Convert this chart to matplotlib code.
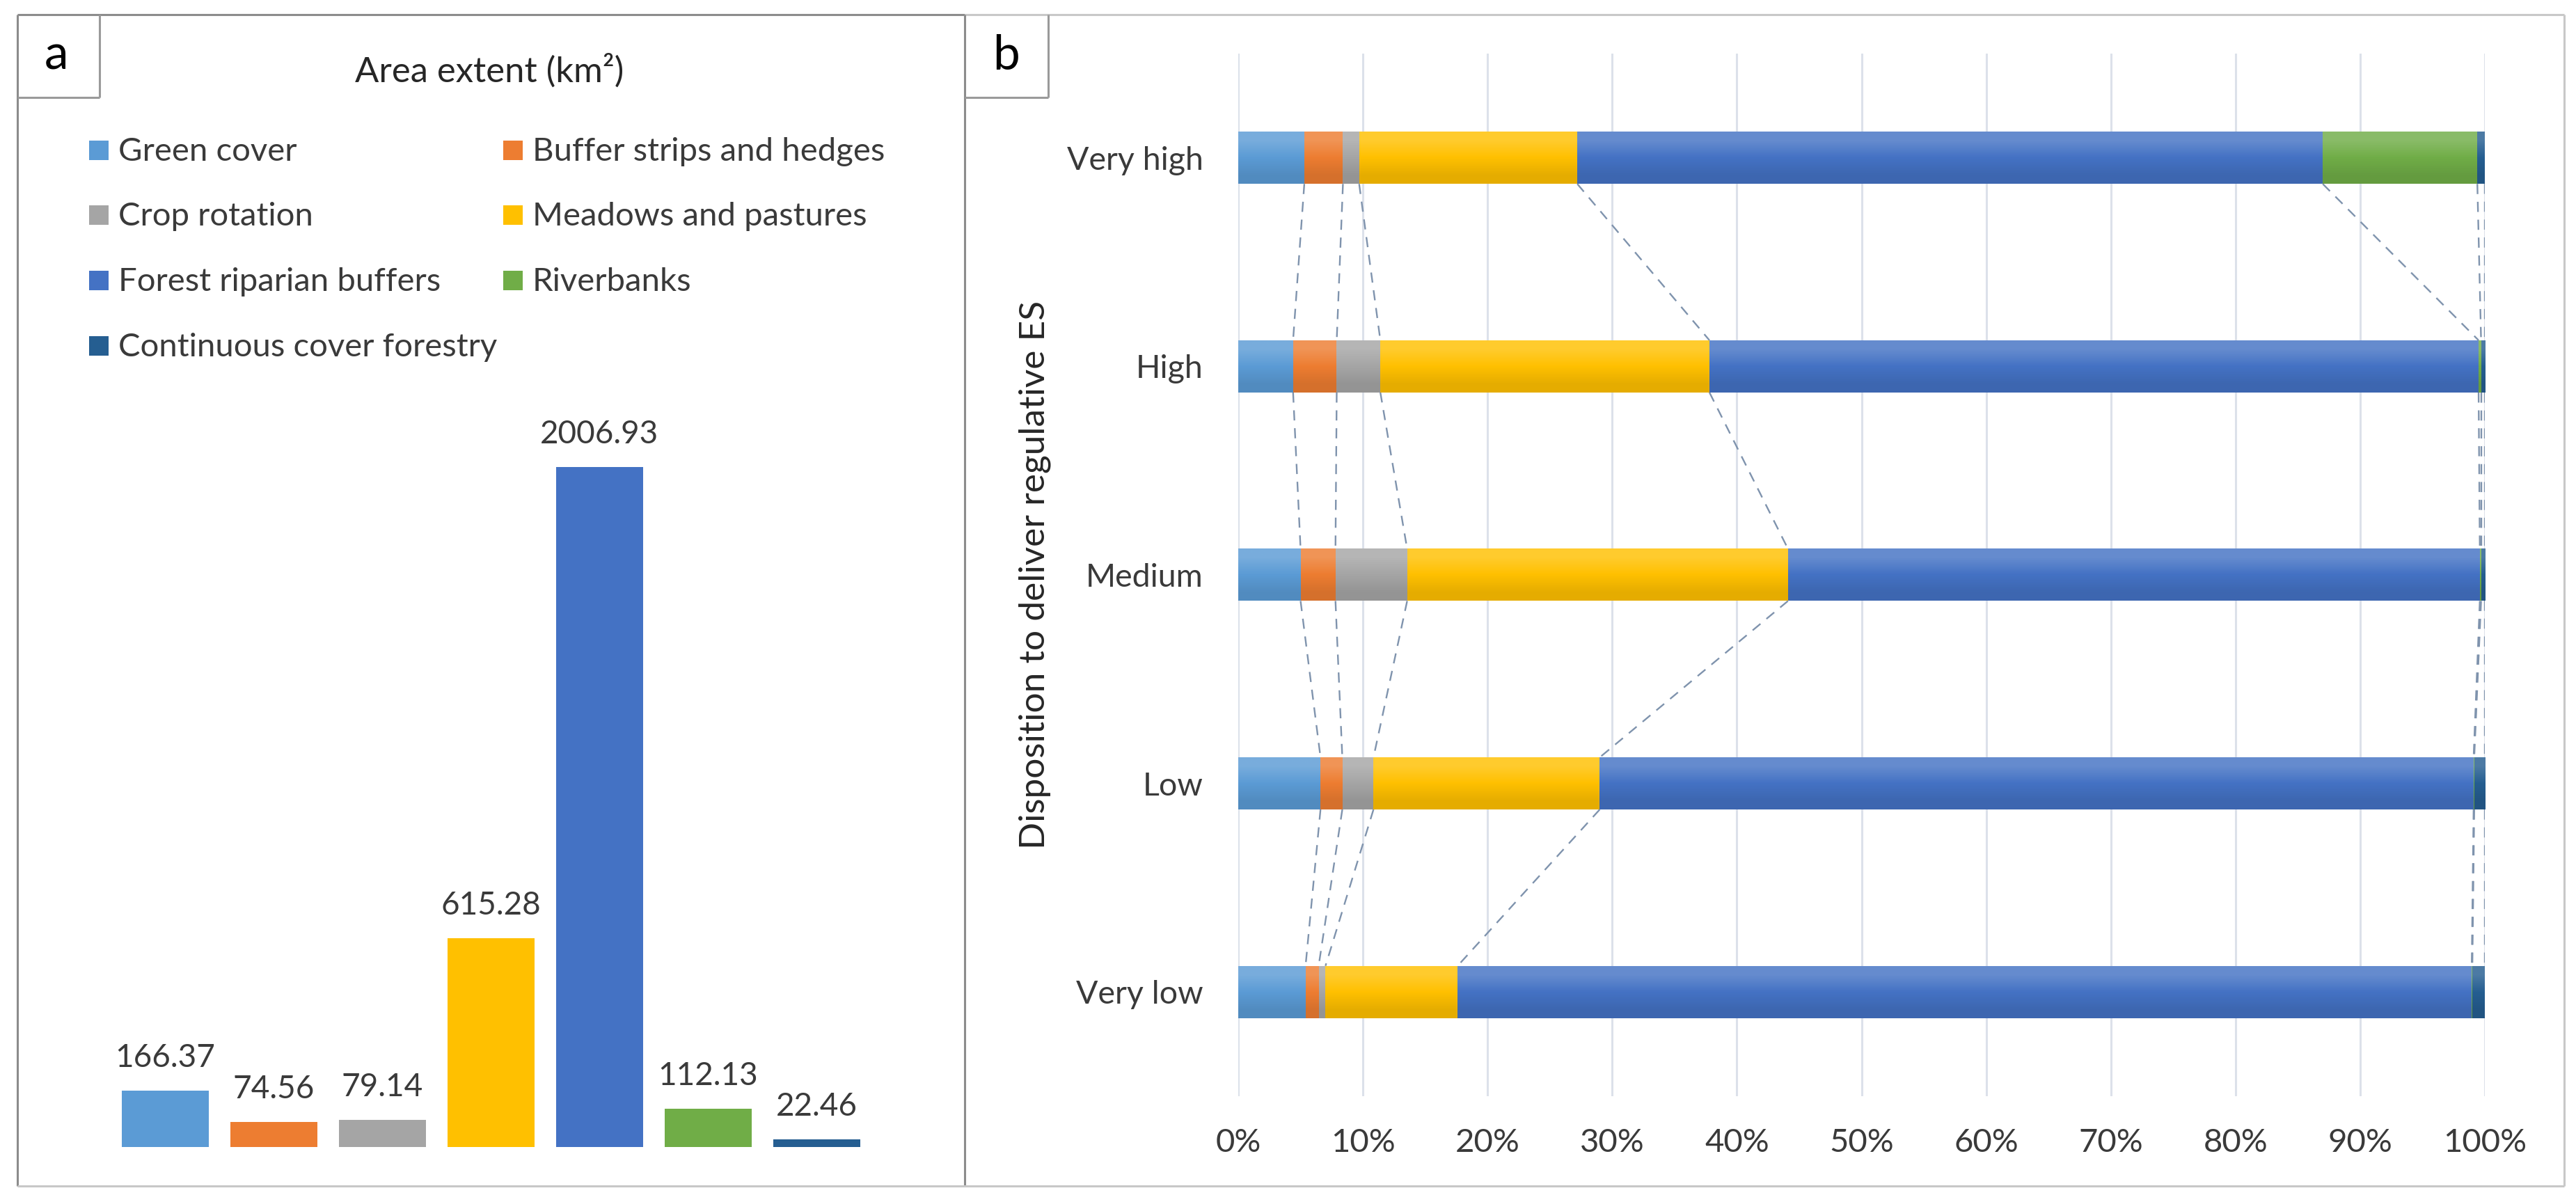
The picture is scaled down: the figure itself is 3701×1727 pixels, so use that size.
import matplotlib
matplotlib.use('Agg')
import matplotlib.pyplot as plt
import numpy as np
from matplotlib.patches import Rectangle
from matplotlib.lines import Line2D
from matplotlib.colors import to_rgb

plt.rcParams['font.family'] = ['Lato', 'DejaVu Sans']
plt.rcParams['lines.scale_dashes'] = False

W, H, DPI = 3701, 1727, 100

# ---------------- data ----------------
categories = ['Green cover', 'Buffer strips and hedges', 'Crop rotation',
              'Meadows and pastures', 'Forest riparian buffers', 'Riverbanks',
              'Continuous cover forestry']
area_km2 = [166.37, 74.56, 79.14, 615.28, 2006.93, 112.13, 22.46]

levels = ['Very high', 'High', 'Medium', 'Low', 'Very low']
share_green_cover = [5.3, 4.4, 5.0, 6.6, 5.4]
share_buffer_strips = [3.1, 3.5, 2.8, 1.75, 1.05]
share_crop_rotation = [1.3, 3.5, 5.75, 2.5, 0.55]
share_meadows = [17.5, 26.4, 30.55, 18.15, 10.6]
share_forest_riparian = [59.8, 61.7, 55.5, 70.1, 81.35]
share_riverbanks = [12.4, 0.2, 0.1, 0.05, 0.05]
share_ccf = [0.6, 0.3, 0.3, 0.85, 1.0]

x_ticks = [0, 10, 20, 30, 40, 50, 60, 70, 80, 90, 100]
x_tick_labels = ['0%', '10%', '20%', '30%', '40%', '50%', '60%', '70%', '80%', '90%', '100%']

colors = ['#5B9BD5', '#ED7D31', '#A5A5A5', '#FFC000', '#4472C4', '#70AD47', '#255E91']
TXT = '#3A3A3A'

def fx(px):
    return px / W

def fy(py):
    return 1 - py / H

fig = plt.figure(figsize=(W / DPI, H / DPI), dpi=DPI)
fig.patch.set_facecolor('white')

# ---------------- panel a ----------------
ax_a = fig.add_axes([fx(159.5), fy(1648), fx(1251.5) - fx(159.5), fy(470) - fy(1648)])
xa = np.arange(len(categories))
ax_a.bar(xa, area_km2, width=0.8, color=colors, linewidth=0)
ax_a.set_xlim(-0.5, len(categories) - 0.5)
ax_a.set_ylim(0, max(area_km2) * (1648 - 470) / (1648 - 671))
for i, v in enumerate(area_km2):
    ax_a.annotate(f'{v:.2f}', (xa[i], v), xytext=(0, 24.5), textcoords='offset points',
                  ha='center', va='baseline', fontsize=33, color=TXT)
ax_a.axis('off')

fig.text(fx(703), fy(118), 'Area extent (km²)', ha='center', va='baseline',
         fontsize=36.5, color='#262626')

# manual legend (row-wise like the original)
leg_cols_x = [128, 723]
leg_rows_top = [202, 295, 389, 483]
for i, (lab, col) in enumerate(zip(categories, colors)):
    r, c = divmod(i, 2)
    x0 = leg_cols_x[c]
    y0 = leg_rows_top[r]
    fig.add_artist(Rectangle((fx(x0), fy(y0 + 28)), fx(28), 28 / H,
                             transform=fig.transFigure, facecolor=col, edgecolor='none'))
    fig.text(fx(x0 + 42), fy(y0 + 29), lab, ha='left', va='baseline', fontsize=34, color=TXT)

# ---------------- panel b ----------------
ax_b = fig.add_axes([fx(1779), fy(1575), fx(3570) - fx(1779), fy(77) - fy(1575)])
series = [share_green_cover, share_buffer_strips, share_crop_rotation, share_meadows,
          share_forest_riparian, share_riverbanks, share_ccf]
ypos = np.arange(len(levels))[::-1].astype(float)  # Very high on top
bar_h = 0.25

def shade(c, f):
    r = np.array(to_rgb(c))
    return r + (1 - r) * f if f >= 0 else r * (1 + f)

left = np.zeros(len(levels))
cum = []
for k, s in enumerate(series):
    s = np.array(s, dtype=float)
    cont = ax_b.barh(ypos, s, left=left, height=bar_h, color=colors[k], linewidth=0, zorder=3)
    for rect in cont.patches:
        x0, y0 = rect.get_x(), rect.get_y()
        w, h = rect.get_width(), rect.get_height()
        if w <= 0:
            continue
        grad = np.array([shade(colors[k], 0.18), np.array(to_rgb(colors[k])),
                         shade(colors[k], -0.1)])[:, None, :]
        ax_b.imshow(grad, extent=[x0, x0 + w, y0, y0 + h], origin='upper', aspect='auto',
                    interpolation='bilinear', zorder=3.5)
    left = left + s
    cum.append(left.copy())

# series lines between consecutive bars
for k in range(len(series)):
    for i in range(len(levels) - 1):
        ax_b.plot([cum[k][i], cum[k][i + 1]],
                  [ypos[i] - bar_h / 2, ypos[i + 1] + bar_h / 2],
                  color='#7F93AD', lw=1.7, dashes=(10.5, 8), zorder=2.5)

ax_b.set_xlim(0, 100)
ax_b.set_ylim(-0.5, len(levels) - 0.5)
ax_b.set_xticks(x_ticks)
ax_b.set_xticklabels(x_tick_labels)
ax_b.set_yticks(ypos)
ax_b.set_yticklabels(levels)
ax_b.tick_params(axis='x', length=0, pad=33, labelsize=34, labelcolor=TXT)
ax_b.tick_params(axis='y', length=0, pad=36, labelsize=33.5, labelcolor=TXT)
ax_b.grid(axis='x', color='#DCE1EA', lw=2.2, zorder=0)
ax_b.set_axisbelow(True)
for sp in ax_b.spines.values():
    sp.set_visible(False)

fig.text(fx(1487), fy(826), 'Disposition to deliver regulative ES', rotation=90,
         ha='center', va='center', fontsize=37, color='#262626')

# ---------------- frames and panel letters ----------------
def hline(x0, x1, y, color, lw=2.2):
    fig.add_artist(Line2D([fx(x0), fx(x1)], [fy(y), fy(y)], transform=fig.transFigure,
                          color=color, lw=lw, solid_capstyle='butt'))

def vline(x, y0, y1, color, lw=2.2):
    fig.add_artist(Line2D([fx(x), fx(x)], [fy(y0), fy(y1)], transform=fig.transFigure,
                          color=color, lw=lw, solid_capstyle='butt'))

dark = '#8C8C8C'
light = '#C8C8C8'
hline(25, 1386, 21, dark)
hline(1386, 3684, 21, light)
vline(25, 21, 1704, dark)
vline(1386, 21, 1704, dark)
vline(3684, 21, 1704, light)
hline(25, 3684, 1704, light)
# letter boxes
hline(25, 143, 140, '#9A9A9A')
vline(143, 21, 140, '#9A9A9A')
hline(1386, 1506, 140, '#9A9A9A')
vline(1506, 21, 140, '#9A9A9A')

fig.text(fx(81), fy(80), 'a', ha='center', va='center', fontsize=50, color='black')
fig.text(fx(1446), fy(80), 'b', ha='center', va='center', fontsize=50, color='black')

fig.savefig('out.png', dpi=DPI, facecolor='white')
